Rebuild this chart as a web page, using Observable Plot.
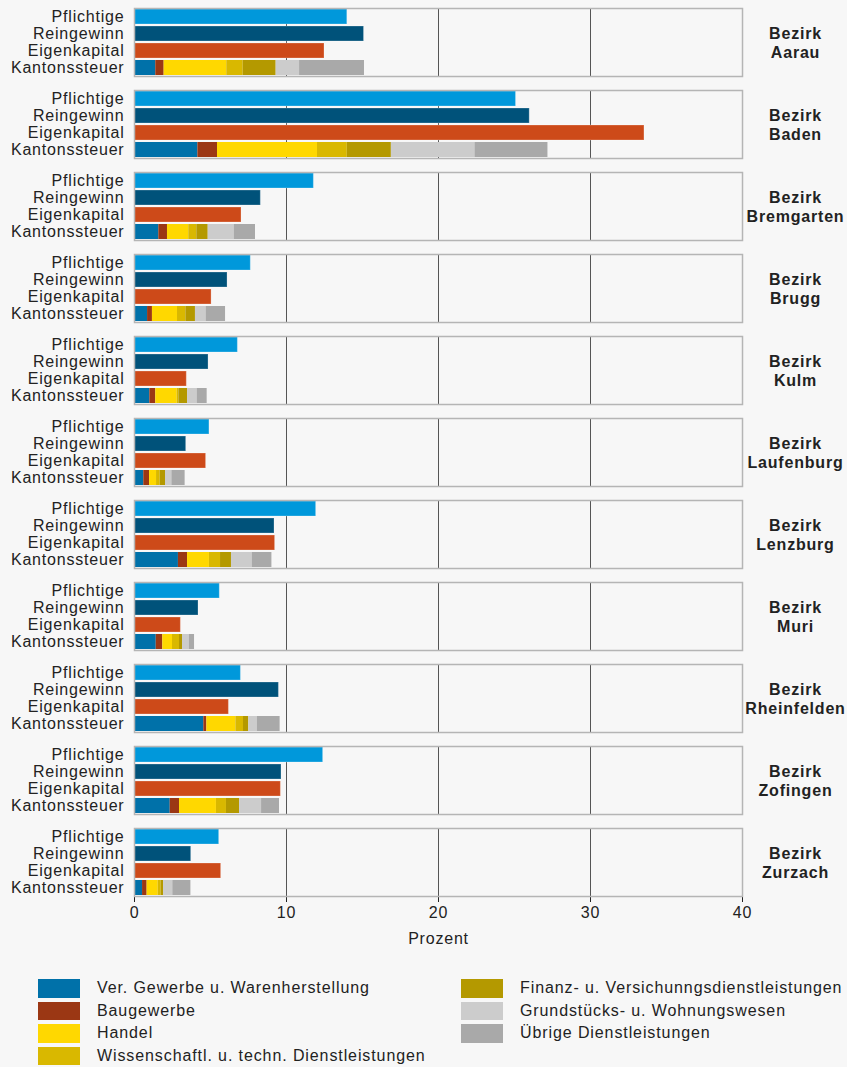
<!DOCTYPE html>
<html>
<head>
<meta charset="utf-8">
<script src="https://cdn.jsdelivr.net/npm/d3@7"></script>
<script src="https://cdn.jsdelivr.net/npm/@observablehq/plot@0.6"></script>
<style>
  html, body { margin: 0; padding: 0; background: #f7f7f7; }
  #wrap { position: relative; width: 847px; height: 1067px; background: #f7f7f7; font-family: "Liberation Sans", Arial, sans-serif; }
  #chart svg { display: block; }
  .lg { position: absolute; display: flex; align-items: center; font-size: 16px; letter-spacing: 0.9px; color: #222; white-space: nowrap; }
  .lg span.sw { display: inline-block; width: 42px; height: 18.5px; margin-right: 17px; }
</style>
</head>
<body>
<div id="wrap">
  <div id="chart"></div>
  <div id="legend"></div>
</div>
<script>
const districts = ["Aarau", "Baden", "Bremgarten", "Brugg", "Kulm", "Laufenburg", "Lenzburg", "Muri", "Rheinfelden", "Zofingen", "Zurzach"];
const measures = ["Pflichtige", "Reingewinn", "Eigenkapital", "Kantonssteuer"];

const pflichtige   = [14.0, 25.1, 11.8, 7.65, 6.8, 4.93, 11.95, 5.61, 7.0, 12.41, 5.57];
const reingewinn   = [15.1, 26.0, 8.31, 6.12, 4.87, 3.4, 9.21, 4.21, 9.5, 9.67, 3.73];
const eigenkapital = [12.5, 33.55, 7.04, 5.07, 3.44, 4.71, 9.25, 3.05, 6.21, 9.63, 5.7];

const sectors = [
  "Ver. Gewerbe u. Warenherstellung",
  "Baugewerbe",
  "Handel",
  "Wissenschaftl. u. techn. Dienstleistungen",
  "Finanz- u. Versichunngsdienstleistungen",
  "Grundstücks- u. Wohnungswesen",
  "Übrige Dienstleistungen"
];
// Kantonssteuer share per sector, per district (same order as districts)
const stVerGewerbe   = [1.40, 4.17, 1.60, 0.86, 1.01, 0.61, 2.89, 1.43, 4.56, 2.35, 0.53];
const stBaugewerbe   = [0.55, 1.29, 0.57, 0.32, 0.39, 0.38, 0.60, 0.43, 0.20, 0.61, 0.30];
const stHandel       = [4.12, 6.58, 1.40, 1.65, 1.41, 0.46, 1.44, 0.64, 1.91, 2.43, 0.73];
const stWissen       = [1.08, 1.96, 0.53, 0.55, 0.11, 0.24, 0.73, 0.46, 0.50, 0.66, 0.19];
const stFinanz       = [2.17, 2.90, 0.75, 0.63, 0.57, 0.35, 0.72, 0.20, 0.35, 0.86, 0.16];
const stGrundstueck  = [1.54, 5.50, 1.71, 0.70, 0.63, 0.42, 1.36, 0.44, 0.57, 1.45, 0.61];
const stUebrige      = [4.27, 4.80, 1.40, 1.28, 0.66, 0.87, 1.30, 0.35, 1.49, 1.18, 1.19];
const sectorValues = [stVerGewerbe, stBaugewerbe, stHandel, stWissen, stFinanz, stGrundstueck, stUebrige];

const measureColors = ["#0098db", "#00527a", "#cd4a19"];
const sectorColors = ["#0071a9", "#9b3714", "#ffd800", "#d9b800", "#b49900", "#cccccc", "#a9a9a9"];

const simpleRows = [];
districts.forEach((b, i) => {
  simpleRows.push({bezirk: b, measure: "Pflichtige", key: "Pflichtige", value: pflichtige[i]});
  simpleRows.push({bezirk: b, measure: "Reingewinn", key: "Reingewinn", value: reingewinn[i]});
  simpleRows.push({bezirk: b, measure: "Eigenkapital", key: "Eigenkapital", value: eigenkapital[i]});
});
const stackRows = [];
districts.forEach((b, i) => {
  sectors.forEach((s, j) => stackRows.push({bezirk: b, measure: "Kantonssteuer", key: s, value: sectorValues[j][i]}));
});

const chart = Plot.plot({
  width: 847,
  height: 950,
  marginTop: 5,
  marginLeft: 134,
  marginRight: 105,
  marginBottom: 52,
  style: {background: "#f7f7f7", fontFamily: "'Liberation Sans', Arial, sans-serif", fontSize: "16px", letterSpacing: "0.8px", color: "#222"},
  x: {domain: [0, 40], ticks: [0, 10, 20, 30, 40], tickSize: 6, tickPadding: 4, label: "Prozent", labelAnchor: "center", labelArrow: "none", labelOffset: 47},
  y: {domain: measures, paddingInner: 0.12, paddingOuter: 0.06, tickSize: 0, tickPadding: 10, label: null},
  fy: {domain: districts, paddingInner: 0.176, paddingOuter: 0, axis: null, label: null},
  color: {domain: [...measures.slice(0, 3), ...sectors], range: [...measureColors, ...sectorColors]},
  marks: [
    Plot.ruleX([10, 20, 30], {stroke: "#555", strokeWidth: 1}),
    Plot.barX(simpleRows, {x: "value", y: "measure", fy: "bezirk", fill: "key", stroke: "white", strokeOpacity: 0.25, strokeWidth: 1}),
    Plot.barX(stackRows, Plot.stackX({x: "value", y: "measure", fy: "bezirk", fill: "key"})),
    Plot.frame({stroke: "#b5b5b5", strokeWidth: 1.5}),
    Plot.text(districts, {fy: d => d, text: d => `Bezirk\n${d}`, frameAnchor: "right", dx: 53, textAnchor: "middle", fontWeight: "bold", fontSize: 16, lineHeight: 1.15, fill: "#222"})
  ]
});
document.getElementById("chart").appendChild(chart);

const legend = document.getElementById("legend");
sectors.forEach((s, j) => {
  const col = j < 4 ? 0 : 1;
  const row = j < 4 ? j : j - 4;
  const item = document.createElement("div");
  item.className = "lg";
  item.style.left = (col === 0 ? 38 : 461) + "px";
  item.style.top = (979 + row * 22.6) + "px";
  const sw = document.createElement("span");
  sw.className = "sw";
  sw.style.background = sectorColors[j];
  item.appendChild(sw);
  item.appendChild(document.createTextNode(s));
  legend.appendChild(item);
});
</script>
</body>
</html>
